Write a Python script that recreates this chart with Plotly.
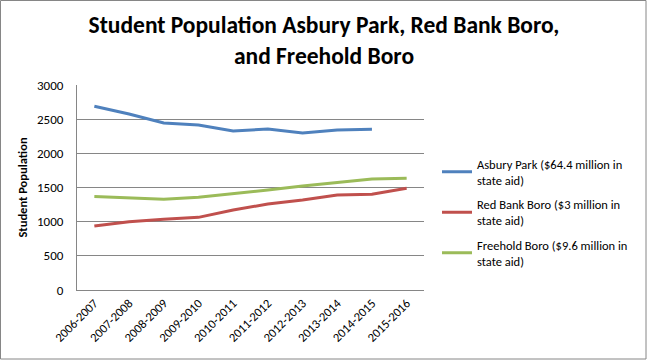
import plotly.graph_objects as go

years = ["2006-2007", "2007-2008", "2008-2009", "2009-2010", "2010-2011",
         "2011-2012", "2012-2013", "2013-2014", "2014-2015", "2015-2016"]
asbury = [2690, 2575, 2443, 2414, 2326, 2355, 2297, 2341, 2351, None]
red_bank = [936, 1000, 1034, 1063, 1170, 1258, 1317, 1390, 1400, 1488]
freehold = [1370, 1350, 1327, 1356, 1415, 1463, 1521, 1570, 1624, 1634]

names = ["Asbury Park ($64.4 million in<br>state aid)",
         "Red Bank Boro ($3 million in<br>state aid)",
         "Freehold Boro ($9.6 million in<br>state aid)"]
colors = ["#4F81BD", "#C0504D", "#9BBB59"]
series = [asbury, red_bank, freehold]

FONT = "Carlito, Lato, 'Open Sans', sans-serif"

fig = go.Figure()
for i, (name, vals, col) in enumerate(zip(names, series, colors)):
    fig.add_trace(go.Scatter(x=years, y=vals, name=name, mode="lines",
                             line=dict(color=col, width=3),
                             legendgroup=f"g{i}"))

ml, mr, mt, mb = 77, 224, 85, 71
W, H = 648, 361
pw, ph = W - ml - mr, H - mt - mb

def px_x(p):
    return (p - ml) / pw

def px_y(p):
    return (H - mb - p) / ph

fig.update_layout(
    width=W, height=H,
    margin=dict(l=ml, r=mr, t=mt, b=mb),
    paper_bgcolor="white", plot_bgcolor="white",
    font=dict(family=FONT, size=12, color="black"),
    title=dict(text="<b>Student Population Asbury Park, Red Bank Boro,<br>and Freehold Boro</b>",
               x=0.5, xanchor="center", y=1 - 33 / H, yanchor="middle",
               font=dict(family=FONT, size=23.5, color="black")),
    xaxis=dict(showgrid=False, showline=True, linecolor="#868686", linewidth=1,
               tickangle=-45, ticks="", tickfont=dict(size=12.5),
               range=[-0.5, 9.5]),
    yaxis=dict(range=[0, 3000], dtick=500, showgrid=True, gridcolor="#868686",
               gridwidth=1, showline=True, linecolor="#868686", zeroline=False,
               ticks="outside", ticklen=10, tickcolor="rgba(0,0,0,0)",
               tickfont=dict(size=13),
               title=dict(text="<b>Student Population</b>", font=dict(size=12.5),
                          standoff=6)),
    legend=dict(x=px_x(437), y=px_y(149), xanchor="left", yanchor="top",
                font=dict(size=12.5), tracegroupgap=5, bgcolor="rgba(0,0,0,0)"),
    shapes=[dict(type="rect", xref="paper", yref="paper",
                 x0=px_x(0.5), x1=px_x(646), y0=px_y(359), y1=px_y(0.5),
                 line=dict(color="#868686", width=1), layer="below")],
)

fig.write_html("out.html", config={"displayModeBar": False},
               post_script="document.body.style.margin='0';document.body.style.overflow='hidden';")
